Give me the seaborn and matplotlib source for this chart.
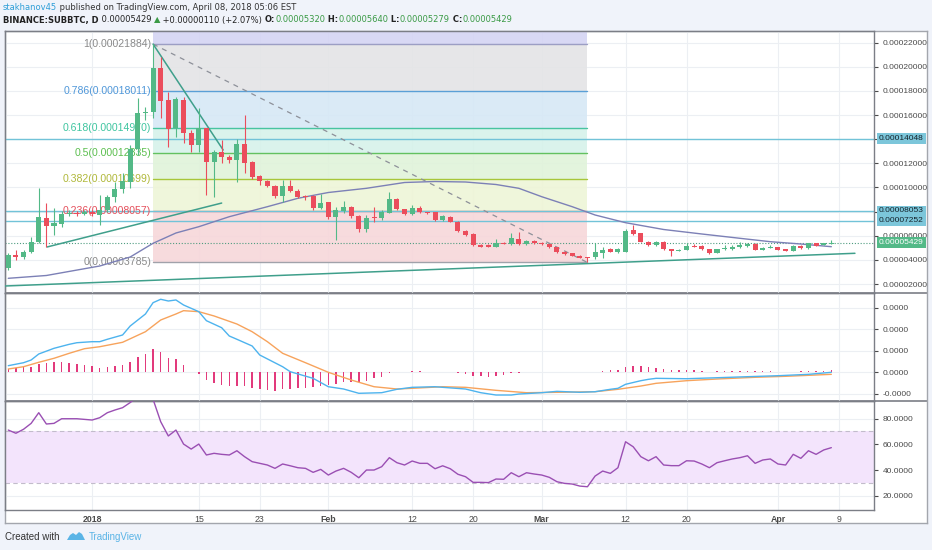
import numpy as np
import pandas as pd
import matplotlib
matplotlib.use("Agg")
import matplotlib.pyplot as plt
import matplotlib.dates as mdates
import matplotlib.transforms as mtransforms
from matplotlib.patches import Polygon
import seaborn as sns

# ---- data (prices in satoshi, 1e-8 BTC) ----
start_day = "2017-12-21"

open_sat = [3300, 4410, 4240, 4650, 5480, 7480, 6810, 6970, 7830, 7920, 7800, 7950, 7720, 8130, 9240, 9880,
            10480, 13190, 16200, 16280, 19880, 17250, 14960, 17250, 14540, 13520, 14960, 12140, 12920, 12550,
            12280, 13580, 12090, 10950, 10540, 10150, 9290, 10150, 9730, 9320, 9320, 8300, 8770, 7580, 8080,
            8410, 7660, 6560, 7580, 7500, 7910, 9020, 8190, 7780, 8330, 7940, 7940, 7310, 7580, 7170, 6420,
            6150, 5230, 5230, 5090, 5420, 5290, 5730, 5290, 5570, 5420, 5320, 5040, 4680, 4550, 4350, 4210,
            4220, 4600, 4880, 4650, 4680, 6480, 6190, 5510, 5230, 5510, 4880, 4760, 4820, 5180, 5150, 4880,
            4600, 4880, 4900, 5040, 5150, 5320, 4820, 5010, 5040, 4880, 4760, 5150, 4980, 5370, 5230, 5320]
high_sat = [4570, 4820, 4820, 5890, 9950, 8710, 8300, 8050, 8100, 8060, 8150, 8100, 9370, 9400, 10480, 11180,
            13520, 17420, 16700, 21884, 20840, 17940, 17530, 17500, 14760, 16590, 14960, 13110, 13940, 12700,
            14000, 16010, 12200, 11000, 10600, 10200, 10620, 10620, 9900, 9400, 9400, 9500, 8800, 8410, 8900,
            8500, 7700, 7700, 8400, 8100, 9600, 9100, 8250, 8550, 8450, 8000, 8000, 7750, 7650, 7200, 6450,
            6200, 5300, 5300, 5700, 5480, 6230, 6330, 5650, 5620, 5470, 5350, 5080, 4700, 4580, 4380, 4230,
            5400, 5100, 4950, 4950, 6560, 6890, 6250, 5560, 5560, 5560, 4920, 4900, 5400, 5300, 5200, 4920,
            4920, 5200, 5250, 5500, 5400, 5370, 5060, 5250, 5080, 4900, 5200, 5200, 5420, 5420, 5420, 5640]
low_sat = [3200, 4000, 4100, 4570, 5400, 5070, 6060, 6720, 7650, 7650, 7700, 7600, 6890, 7950, 8820, 9520,
           9960, 12690, 15600, 15760, 15730, 13380, 14210, 13690, 12970, 12970, 9380, 9240, 12010, 12000,
           10480, 11170, 10700, 10200, 10000, 9100, 8820, 9600, 9150, 9000, 8100, 8200, 7350, 5650, 7850,
           7500, 6340, 6340, 7100, 7300, 7850, 8100, 7700, 7700, 7850, 7800, 7250, 7200, 7100, 6350, 6000,
           5150, 5050, 5050, 5050, 5280, 5250, 5250, 5250, 5320, 5250, 5000, 4580, 4430, 4300, 4130, 3785,
           4070, 4150, 4630, 4600, 4620, 6050, 5450, 5180, 5180, 4830, 4320, 4720, 4780, 5050, 4840, 4500,
           4560, 4850, 4860, 5000, 5100, 4780, 4780, 4960, 4780, 4720, 4720, 4920, 4940, 5140, 5200, 5279]
close_sat = [4400, 4240, 4650, 5480, 7560, 6810, 7060, 7830, 7920, 7800, 7950, 7780, 8130, 9240, 9880, 10540,
             13190, 16200, 16280, 19880, 17190, 14850, 17310, 14540, 13520, 14910, 12140, 12920, 12500, 12280,
             13600, 12050, 10890, 10540, 10120, 9300, 10150, 9710, 9240, 9190, 8280, 8740, 7580, 8130, 8410,
             7660, 6560, 7500, 7450, 7940, 9020, 8190, 7800, 8330, 7940, 7880, 7310, 7640, 7170, 6420, 6060,
             5230, 5090, 5090, 5420, 5320, 5790, 5290, 5570, 5370, 5290, 5040, 4630, 4490, 4350, 4180, 4160,
             4630, 4820, 4680, 4900, 6420, 6130, 5510, 5230, 5510, 4880, 4760, 4820, 5150, 5090, 4880, 4550,
             4880, 5010, 5090, 5210, 5320, 4820, 5010, 5090, 4820, 4760, 5150, 4960, 5370, 5180, 5370, 5429]

# moving average, read at some candles
ma_idx = [0, 5, 12, 16, 19, 22, 25, 29, 34, 38, 42, 47, 52, 56, 60, 64, 67, 70, 74, 77, 81, 86, 91, 96, 100, 104, 108]
ma_sat = [2473, 2706, 3493, 4239, 5374, 6228, 6750, 7579, 8408, 9104, 9585, 9933, 10414, 10496, 10455, 10248,
          9933, 9236, 8408, 7720, 7082, 6518, 6146, 5789, 5507, 5316, 5093]

# fibonacci retracement
fib_levels = ["1", "0.786", "0.618", "0.5", "0.382", "0.236", "0"]
fib_sat = [21884, 18011, 14970, 12835, 10699, 8057, 3785]
fib_top_sat = 33069
fib_from, fib_to = 19, 76

# drawn lines: (index, price) end points
trend_lines = [((19, 21884), (28.2, 13107)),
               ((5.1, 5070), (28.0, 8710)),
               ((-0.4, 1836), (111.1, 4546))]
dashed_line = ((19, 21884), (76, 3785))
level_sat = [14048, 8053, 7252]
last_sat = 5429
hidden_ticks = [14000, 8000]

# MACD (units of 1e-6 BTC)
macd_idx = [0, 2, 3, 4, 6, 8, 9, 11, 12, 13, 15, 16, 18, 19, 20, 21, 22, 23, 25, 26, 28, 29, 30, 32, 33, 36,
            37, 40, 42, 44, 46, 49, 51, 53, 56, 57, 60, 62, 64, 66, 67, 70, 72, 75, 77, 79, 80, 81, 83, 84,
            85, 89, 93, 97, 101, 105, 108]
macd_val = [1.54, 2.23, 2.86, 4.26, 5.58, 6.51, 6.88, 7.12, 7.12, 7.68, 8.68, 10.77, 13.56, 16.19, 16.98,
            16.58, 16.82, 15.65, 14.10, 12.00, 10.37, 8.44, 7.68, 6.12, 4.02, 1.30, 0.14, -1.40, -3.35, -3.88,
            -4.88, -4.74, -3.95, -3.49, -3.35, -3.49, -3.88, -4.74, -5.28, -5.28, -5.05, -4.74, -4.42, -4.65,
            -4.51, -3.95, -3.72, -2.79, -1.95, -1.63, -1.40, -1.49, -1.26, -1.02, -0.79, -0.47, 0.0]
signal_idx = [0, 2, 4, 6, 8, 10, 12, 15, 18, 20, 22, 23, 25, 27, 30, 32, 34, 36, 39, 42, 45, 48, 51, 53, 57,
              60, 64, 68, 72, 77, 80, 83, 85, 89, 93, 98, 102, 108]
signal_val = [0.77, 1.30, 2.33, 3.26, 4.42, 5.49, 5.95, 6.98, 9.44, 12.16, 13.56, 14.33, 14.10, 13.10, 11.23,
              9.44, 7.12, 4.42, 2.23, 0.0, -1.79, -3.35, -3.88, -3.72, -3.35, -3.49, -4.19, -4.74, -4.65,
              -4.51, -3.95, -3.19, -2.56, -1.95, -1.56, -1.16, -0.93, -0.47]
hist_val = [0.78, 0.93, 1.16, 1.32, 1.94, 2.25, 2.33, 2.33, 2.09, 1.94, 1.71, 1.47, 1.09, 1.32, 1.47, 1.71,
            2.48, 3.64, 4.26, 5.35, 4.81, 3.33, 3.10, 1.71, 0.05, -0.39, -1.78, -2.40, -2.95, -3.10, -3.18,
            -3.18, -3.72, -3.95, -4.11, -4.26, -3.95, -3.88, -3.72, -3.57, -3.33, -3.10, -2.95, -2.71, -2.33,
            -2.17, -2.33, -1.94, -1.40, -1.01, -0.23, 0.0, 0.0, 0.23, 0.23, 0.15, 0.08, 0.08, 0.08, -0.05,
            -0.39, -0.85, -0.85, -1.16, -0.78, -0.62, -0.23, -0.23, 0.0, 0.0, 0.05, 0.05, 0.05, 0.0, 0.0, 0.0,
            0.0, 0.15, 0.31, 0.47, 0.54, 1.16, 1.47, 1.47, 1.16, 1.09, 0.78, 0.54, 0.47, 0.47, 0.47, 0.31,
            0.15, 0.23, 0.23, 0.31, 0.31, 0.31, 0.23, 0.23, 0.23, 0.15, 0.15, 0.15, 0.23, 0.31, 0.31, 0.31, 0.47]

# RSI
rsi_val = [71.1, 68.6, 71.7, 76.3, 84.6, 75.8, 76.3, 79.9, 79.9, 79.9, 79.4, 78.9, 80.7, 84.6, 86.7, 88.5,
           92.5, 97.0, 96.0, 95.0, 77.6, 66.5, 71.1, 60.2, 56.3, 60.2, 51.7, 53.0, 52.2, 51.7, 55.0, 50.4,
           46.5, 45.2, 43.9, 41.3, 44.7, 43.3, 41.8, 41.3, 38.2, 40.5, 36.1, 39.2, 41.3, 38.2, 34.0, 40.0,
           40.0, 42.6, 49.6, 45.7, 43.9, 47.0, 45.2, 45.2, 41.0, 43.3, 41.0, 36.7, 34.8, 30.4, 30.4, 30.2,
           33.0, 32.8, 37.9, 34.8, 37.9, 36.9, 36.1, 34.3, 30.9, 29.6, 29.1, 27.5, 27.0, 35.3, 39.2, 37.4,
           41.8, 62.0, 58.1, 50.4, 47.2, 50.4, 43.9, 43.4, 43.4, 47.2, 47.0, 44.7, 41.8, 45.7, 47.2, 48.6,
           49.6, 51.1, 45.2, 47.8, 48.6, 44.7, 43.9, 52.2, 49.1, 55.0, 52.2, 55.6, 57.4]

tick_days = ["2018-01-01", "2018-01-15", "2018-01-23", "2018-02-01", "2018-02-12", "2018-02-20",
             "2018-03-01", "2018-03-12", "2018-03-20", "2018-04-01", "2018-04-09"]
tick_text = ["2018", "15", "23", "Feb", "12", "20", "Mar", "12", "20", "Apr", "9"]

# ---- styling ----
GREEN, RED = "#53b987", "#eb4d5c"
zone_colors = ["#d4d4f3", "#e4e4e6", "#d6e8f6", "#d6f2ea", "#e0f3da", "#eef5d7", "#f7d7da"]
fib_line_colors = ["#9c9ec4", "#5a9fd6", "#48c4a0", "#63c160", "#a7c63a", "#e8707a", "#a0a2aa"]
fib_text_colors = ["#8a8a8a", "#4f97d9", "#3fc5a0", "#5cbf4f", "#b0b83a", "#e5505c", "#8a8a8a"]
GRID = "#eceff3"
AXC = "#4a4a4a"

sns.set_theme(style="white")
plt.rcParams["font.family"] = ["Liberation Sans", "DejaVu Sans"]

S = 1e-8
dates = pd.date_range(start_day, periods=len(close_sat), freq="D")
t0 = mdates.date2num(dates[0])
opens, highs = np.array(open_sat) * S, np.array(high_sat) * S
lows, closes = np.array(low_sat) * S, np.array(close_sat) * S
up = closes >= opens
cols = np.where(up, GREEN, RED)

W, H = 932, 550


def box(x0, y0, x1, y1):
    return [x0 / W, 1 - y1 / H, (x1 - x0) / W, (y1 - y0) / H]


fig = plt.figure(figsize=(W / 100, H / 100), dpi=100, facecolor="#f0f3fa")
bg = fig.add_axes(box(5, 31, 927, 523), zorder=0)
bg.set_facecolor("white")
bg.set_xticks([]); bg.set_yticks([])
for s in bg.spines.values():
    s.set_color("#a3a6ad"); s.set_linewidth(1)
for yy in (293, 401):
    bg.axhline((523 - yy) / 492, color="#7b7e86", lw=1.2)

ax = fig.add_axes(box(5, 31, 874, 293), zorder=2)
axm = fig.add_axes(box(5, 293, 874, 401), zorder=2)
axr = fig.add_axes(box(5, 401, 874, 510), zorder=2)

xlim = (t0 - 0.43, t0 + 113.6)
tick_nums = mdates.date2num(pd.to_datetime(tick_days))

for a in (ax, axm, axr):
    a.set_facecolor("none")
    a.set_xlim(xlim)
    a.set_xticks(tick_nums)
    a.grid(True, color=GRID, lw=0.8)
    a.set_axisbelow(True)
    a.yaxis.tick_right()
    a.tick_params(axis="y", direction="out", length=3, width=0.8, pad=3, labelsize=6, colors=AXC)
    a.tick_params(axis="x", length=0)
    for s in a.spines.values():
        s.set_color("#7b7e86"); s.set_linewidth(1)


def price_fmt(v, pos):
    if any(abs(v - h * S) < 1e-10 for h in hidden_ticks):
        return ""
    return f"{v:.8f}"


# ---- main price panel ----
ax.set_ylim(1255 * S, 22970 * S)
ax.set_yticks(np.arange(2000, 22001, 2000) * S)
ax.yaxis.set_major_formatter(plt.FuncFormatter(price_fmt))
ax.tick_params(axis="x", labelbottom=False)

fx0 = t0 + fib_from
fx1 = t0 + fib_to
bounds = [fib_top_sat] + fib_sat
for k in range(len(zone_colors)):
    ax.fill_between([fx0, fx1], bounds[k] * S, bounds[k + 1] * S, color=zone_colors[k], lw=0, alpha=0.9, zorder=1)
for lvl, p, lc, tc in zip(fib_levels, fib_sat, fib_line_colors, fib_text_colors):
    ax.plot([fx0, fx1], [p * S, p * S], color=lc, lw=1, zorder=2)
    ax.text(fx0 - 0.25, p * S, f"{lvl}({p * S:.8f})", color=tc, fontsize=7.6, ha="right", va="center", zorder=2.5)

for p in level_sat:
    ax.axhline(p * S, color="#72c3d8", lw=1, zorder=2.2)
ax.axhline(last_sat * S, color="#4f9c80", lw=0.8, ls=(0, (1, 1.6)), zorder=2.2)

(a0, p0), (a1, p1) = dashed_line
ax.plot([t0 + a0, t0 + a1], [p0 * S, p1 * S], color="#8d9099", lw=0.9, ls=(0, (4, 4)), zorder=3)

sns.lineplot(x=dates[ma_idx], y=np.array(ma_sat) * S, ax=ax, color="#7c80b6", lw=1, zorder=3)

for (a0, p0), (a1, p1) in trend_lines:
    ax.plot([t0 + a0, t0 + a1], [p0 * S, p1 * S], color="#3f9f8b", lw=1.1, zorder=3)

# candles
ax.vlines(dates, lows, highs, colors=cols, lw=0.8, zorder=4)
body = np.maximum(np.abs(closes - opens), 60 * S)
ax.bar(dates, body, bottom=np.minimum(opens, closes), width=0.66, color=cols, lw=0, zorder=5)
ax.set_xlim(xlim)
ax.set_xlabel(""); ax.set_ylabel("")

# price tags on the right
blend = mtransforms.blended_transform_factory(ax.transAxes, ax.transData)
for p in level_sat:
    ax.text(1.0 + 5 / 869, p * S, f"{p * S:.8f}", transform=blend, fontsize=6, color="#15232b", va="center",
            ha="left", zorder=10, clip_on=False,
            bbox=dict(boxstyle="square,pad=0.22", fc="#7cc6da", ec="none"))
ax.text(1.0 + 5 / 869, last_sat * S, f"{last_sat * S:.8f}", transform=blend, fontsize=6, color="white",
        va="center", ha="left", zorder=10, clip_on=False,
        bbox=dict(boxstyle="square,pad=0.22", fc=GREEN, ec="none"))

# ---- MACD panel ----
axm.set_ylim(-6.67e-6, 1.844e-5)
axm.set_yticks(np.array([-5, 0, 5, 10, 15]) * 1e-6)
axm.yaxis.set_major_formatter(plt.FuncFormatter(lambda v, p: f"{v:.4f}"))
axm.bar(dates, np.array(hist_val) * 1e-6, width=0.2, color="#e23a7c", lw=0, zorder=2)
sns.lineplot(x=dates[signal_idx], y=np.array(signal_val) * 1e-6, ax=axm, color="#f7a35c", lw=1, zorder=3)
sns.lineplot(x=dates[macd_idx], y=np.array(macd_val) * 1e-6, ax=axm, color="#4db3ee", lw=1, zorder=4)
axm.set_xlim(xlim)
axm.set_xlabel(""); axm.set_ylabel("")
axm.tick_params(axis="x", labelbottom=False)

# ---- RSI panel ----
axr.set_ylim(8.9, 93.7)
axr.set_yticks([20, 40, 60, 80])
axr.yaxis.set_major_formatter(plt.FuncFormatter(lambda v, p: f"{v:.4f}"))
axr.axhspan(30, 70, color="#f3e4fc", lw=0, zorder=1)
axr.axhline(70, color="#c2bccb", lw=0.8, ls=(0, (4, 3)), zorder=1.5)
axr.axhline(30, color="#c2bccb", lw=0.8, ls=(0, (4, 3)), zorder=1.5)
sns.lineplot(x=dates, y=rsi_val, ax=axr, color="#9a4fb3", lw=1, zorder=3)
axr.set_xlim(xlim)
axr.set_xlabel(""); axr.set_ylabel("")
axr.set_xticks(tick_nums)
axr.set_xticklabels(tick_text)
axr.tick_params(axis="x", length=0, pad=3.5, labelsize=6.3, colors=AXC)
for lbl in axr.get_xticklabels():
    if lbl.get_text() in ("2018", "Feb", "Mar", "Apr"):
        lbl.set_fontweight("bold")

# ---- header and footer ----
hdr_font = ["Liberation Sans Narrow", "DejaVu Sans"]


def chain(parts, x, y):
    prev = None
    for txt, col, fw in parts:
        if prev is None:
            prev = fig.text(x, y, txt, color=col, fontweight=fw, fontsize=6.0, family=hdr_font, va="center")
        else:
            prev = bg.annotate(txt, xy=(1, 0), xycoords=prev, color=col, fontweight=fw, fontsize=6.0,
                               family=hdr_font, va="bottom", ha="left", annotation_clip=False)
    return prev


HG = "#3a9a45"
chain([("stakhanov45", "#2f9fd8", "normal"),
       (" published on TradingView.com, April 08, 2018 05:06 EST", "#333333", "normal")], 3 / W, 1 - 8 / H)
chain([("BINANCE:SUBBTC, D", "#222222", "bold"), (" 0.00005429 ", "#222222", "normal"),
       ("\u25b2", HG, "normal"), (" +0.00000110 (+2.07%) ", "#222222", "normal"),
       ("O:", "#222222", "bold"), ("0.00005320", HG, "normal"), (" H:", "#222222", "bold"),
       ("0.00005640", HG, "normal"), (" L:", "#222222", "bold"), ("0.00005279", HG, "normal"),
       (" C:", "#222222", "bold"), ("0.00005429", HG, "normal")], 3 / W, 1 - 20 / H)

fig.text(5 / W, 1 - 537 / H, "Created with", fontsize=7, color="#333333", va="center")
logo = [(67, 540), (70, 535), (73, 533), (76, 535), (79, 532), (82, 534), (85, 540)]
fig.add_artist(Polygon([(x / W, 1 - y / H) for x, y in logo], closed=True, transform=fig.transFigure,
                       fc="#5ab4e6", ec="none"))
fig.text(89 / W, 1 - 537 / H, "TradingView", fontsize=7, color="#5ab4e6", va="center")

fig.savefig("out.png", dpi=100, facecolor=fig.get_facecolor())
